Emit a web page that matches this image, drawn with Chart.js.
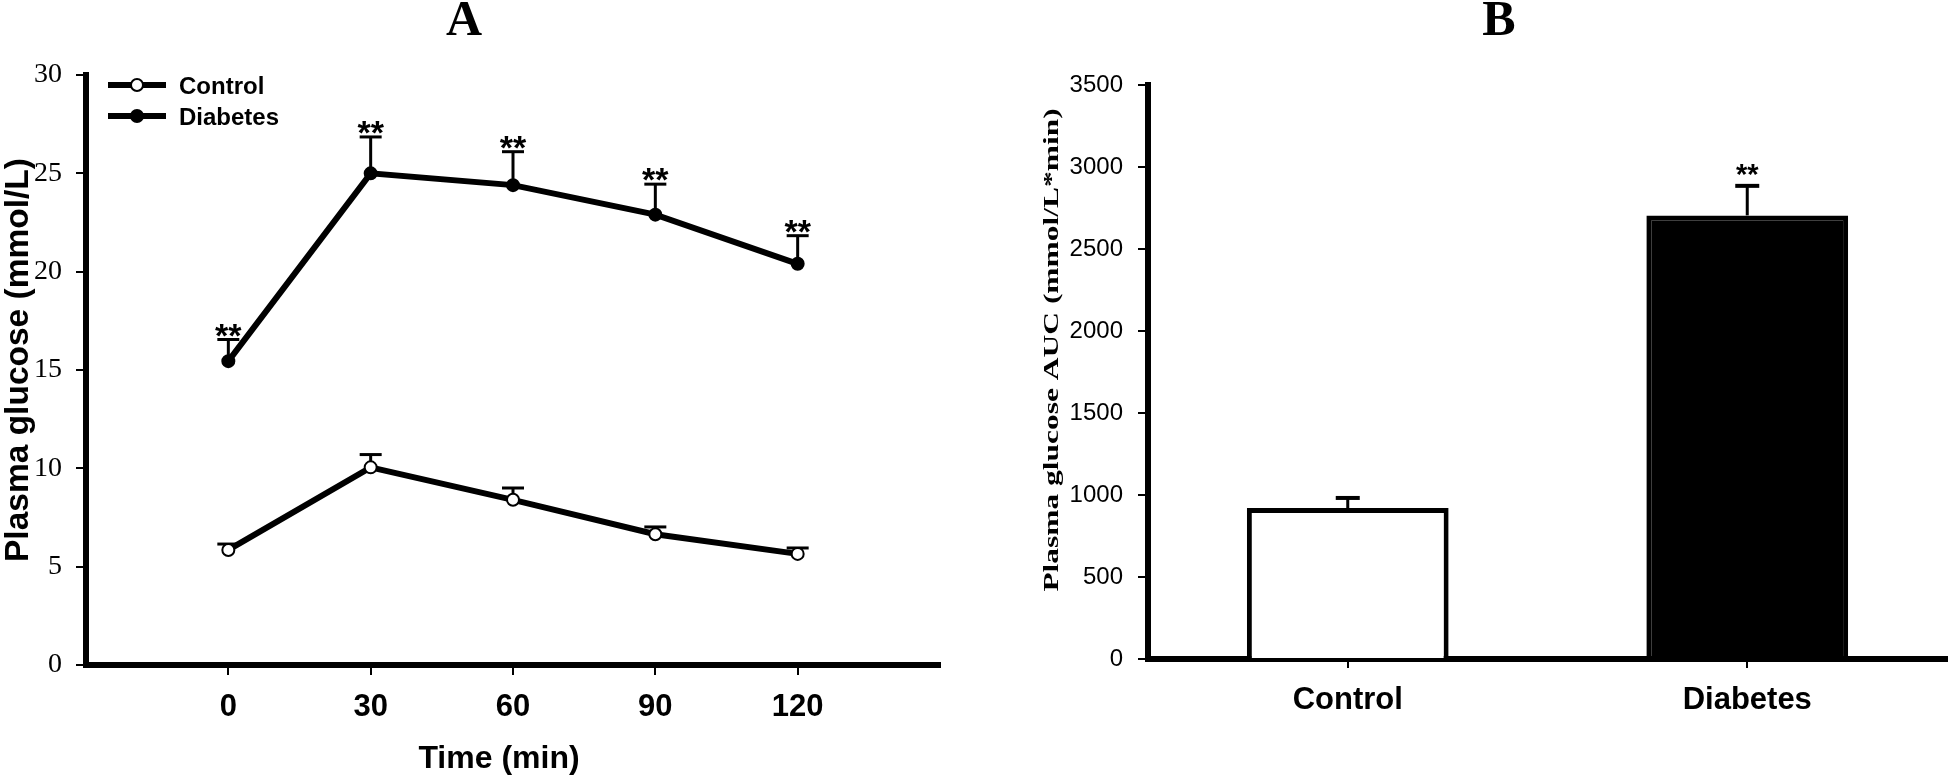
<!DOCTYPE html>
<html>
<head>
<meta charset="utf-8">
<script src="https://cdn.jsdelivr.net/npm/chart.js@4/dist/chart.umd.min.js"></script>
<style>
  body { margin: 0; background: #fff; }
  #wrapA { position: absolute; left: 0; top: 0; }
  #wrapB { position: absolute; left: 980px; top: 0; }
</style>
</head>
<body>
<div id="wrapA"><canvas id="chartA" width="960" height="775"></canvas></div>
<div id="wrapB"><canvas id="chartB" width="969" height="775"></canvas></div>
<script>
// panel A: glucose over time
const timePoints = [0, 30, 60, 90, 120];
const controlGlucose = [5.85, 10.05, 8.4, 6.65, 5.65];
const controlGlucoseErr = [0.3, 0.65, 0.6, 0.37, 0.3];
const diabetesGlucose = [15.45, 25.0, 24.4, 22.9, 20.4];
const diabetesGlucoseErr = [1.1, 1.85, 1.7, 1.55, 1.43];
const diabetesStars = ["**", "**", "**", "**", "**"];

// panel B: AUC
const groups = ["Control", "Diabetes"];
const aucValues = [920, 2705];
const aucErr = [62, 180];
const aucStars = ["", "**"];

const SANS = "'Liberation Sans', Arial, sans-serif";
const SERIF = "'Liberation Serif', 'Times New Roman', serif";

Chart.defaults.color = "#000";
Chart.defaults.animation = false;

function drawVerticalText(ctx, text, font, x, y, stretch) {
	ctx.save();
	ctx.translate(x, y);
	ctx.rotate(-Math.PI / 2);
	ctx.scale(stretch, 1);
	ctx.font = font;
	ctx.fillStyle = "#000";
	ctx.textAlign = "center";
	ctx.textBaseline = "alphabetic";
	ctx.fillText(text, 0, 0);
	ctx.restore();
}

function drawText(ctx, text, font, x, y) {
	ctx.save();
	ctx.font = font;
	ctx.fillStyle = "#000";
	ctx.textAlign = "center";
	ctx.textBaseline = "alphabetic";
	ctx.fillText(text, x, y);
	ctx.restore();
}

function drawErrorBar(ctx, px, from, to, capW, stemW, capLw) {
	ctx.save();
	ctx.strokeStyle = "#000";
	ctx.lineWidth = stemW;
	ctx.beginPath();
	ctx.moveTo(px, from);
	ctx.lineTo(px, to);
	ctx.stroke();
	ctx.lineWidth = capLw;
	ctx.beginPath();
	ctx.moveTo(px - capW / 2, to);
	ctx.lineTo(px + capW / 2, to);
	ctx.stroke();
	ctx.restore();
}

const axisStyle = (tickLen) => ({
	grid: { drawOnChartArea: false, tickLength: tickLen, lineWidth: 2, color: "#000" },
	border: { color: "#000", width: 6 },
});

const panelA = {
	id: "panelA",
	beforeDatasetsDraw(chart) {
		const { ctx, scales: { x, y } } = chart;
		const series = [
			[controlGlucose, controlGlucoseErr],
			[diabetesGlucose, diabetesGlucoseErr],
		];
		series.forEach(([vals, errs]) => {
			vals.forEach((v, i) => {
				const px = x.getPixelForValue(timePoints[i]);
				drawErrorBar(ctx, px, y.getPixelForValue(v), y.getPixelForValue(v + errs[i]), 22, 3, 3);
			});
		});
	},
	afterDraw(chart) {
		const { ctx, scales: { x, y } } = chart;

		diabetesStars.forEach((s, i) => {
			const px = x.getPixelForValue(timePoints[i]);
			const cap = y.getPixelForValue(diabetesGlucose[i] + diabetesGlucoseErr[i]);
			drawText(ctx, s, "bold 34px " + SANS, px, cap + 7);
		});

		// legend: line with marker
		chart.data.datasets.forEach((ds, i) => {
			const cy = 85 + i * 31;
			ctx.save();
			ctx.strokeStyle = "#000";
			ctx.lineWidth = 6;
			ctx.beginPath();
			ctx.moveTo(108, cy);
			ctx.lineTo(166, cy);
			ctx.stroke();
			ctx.beginPath();
			ctx.arc(137, cy, 6, 0, Math.PI * 2);
			ctx.fillStyle = ds.pointBackgroundColor;
			ctx.fill();
			ctx.lineWidth = 2;
			ctx.stroke();
			ctx.font = "bold 24px " + SANS;
			ctx.fillStyle = "#000";
			ctx.textAlign = "left";
			ctx.fillText(ds.label, 179, cy + 9);
			ctx.restore();
		});

		drawText(ctx, "A", "bold 50px " + SERIF, 464, 35);
		drawText(ctx, "Time (min)", "bold 32px " + SANS, 499, 768);
		drawVerticalText(ctx, "Plasma glucose (mmol/L)", "bold 33.5px " + SANS, 28, 360, 1);
	},
};

const panelB = {
	id: "panelB",
	afterDatasetsDraw(chart) {
		const { ctx, scales: { x, y } } = chart;
		aucValues.forEach((v, i) => {
			const px = x.getPixelForValue(i);
			const top = y.getPixelForValue(v + aucErr[i]);
			drawErrorBar(ctx, px, y.getPixelForValue(v), top, 24, 3, 4);
			if (aucStars[i]) drawText(ctx, aucStars[i], "bold 29px " + SANS, px, top - 2);
		});
	},
	afterDraw(chart) {
		const { ctx } = chart;
		drawText(ctx, "B", "bold 50px " + SERIF, 519, 35);
		drawVerticalText(ctx, "Plasma glucose AUC (mmol/L*min)", "bold 22px " + SERIF, 78, 350, 1.43);
	},
};

new Chart(document.getElementById("chartA"), {
	type: "line",
	data: {
		datasets: [
			{
				label: "Control",
				data: timePoints.map((t, i) => ({ x: t, y: controlGlucose[i] })),
				borderColor: "#000",
				borderWidth: 6,
				pointRadius: 6,
				pointBorderWidth: 2,
				pointBorderColor: "#000",
				pointBackgroundColor: "#fff",
			},
			{
				label: "Diabetes",
				data: timePoints.map((t, i) => ({ x: t, y: diabetesGlucose[i] })),
				borderColor: "#000",
				borderWidth: 6,
				pointRadius: 6,
				pointBorderWidth: 2,
				pointBorderColor: "#000",
				pointBackgroundColor: "#000",
			},
		],
	},
	options: {
		responsive: false,
		layout: { padding: { top: 75, right: 20, left: 0, bottom: 0 } },
		plugins: { legend: { display: false }, tooltip: { enabled: false } },
		scales: {
			x: {
				type: "linear",
				min: -30,
				max: 150,
				afterBuildTicks: (s) => {
					s.ticks = timePoints.map((v) => ({ value: v }));
				},
				afterFit: (s) => {
					s.height = 110;
				},
				...axisStyle(10),
				ticks: { font: { family: SANS, size: 31, weight: "bold" }, padding: 14, maxRotation: 0 },
			},
			y: {
				min: 0,
				max: 30,
				afterFit: (s) => {
					s.width = 86;
				},
				...axisStyle(10),
				ticks: { stepSize: 5, font: { family: SERIF, size: 28 }, padding: 14 },
			},
		},
	},
	plugins: [panelA],
});

new Chart(document.getElementById("chartB"), {
	type: "bar",
	data: {
		labels: groups,
		datasets: [
			{
				data: aucValues,
				backgroundColor: ["#fff", "#000"],
				borderColor: "#000",
				borderWidth: 5,
				barPercentage: 0.505,
				categoryPercentage: 1,
			},
		],
	},
	options: {
		responsive: false,
		layout: { padding: { top: 85, right: 2, left: 0, bottom: 0 } },
		plugins: { legend: { display: false }, tooltip: { enabled: false } },
		scales: {
			x: {
				afterFit: (s) => {
					s.height = 116;
				},
				...axisStyle(9),
				grid: { offset: false, drawOnChartArea: false, tickLength: 9, lineWidth: 2, color: "#000" },
				ticks: { font: { family: SANS, size: 31, weight: "bold" }, padding: 14, maxRotation: 0 },
			},
			y: {
				min: 0,
				max: 3500,
				afterFit: (s) => {
					s.width = 168;
				},
				...axisStyle(10),
				ticks: {
					stepSize: 500,
					font: { family: SANS, size: 24 },
					padding: 15,
					callback: (v) => String(v),
				},
			},
		},
	},
	plugins: [panelB],
});
</script>
</body>
</html>
